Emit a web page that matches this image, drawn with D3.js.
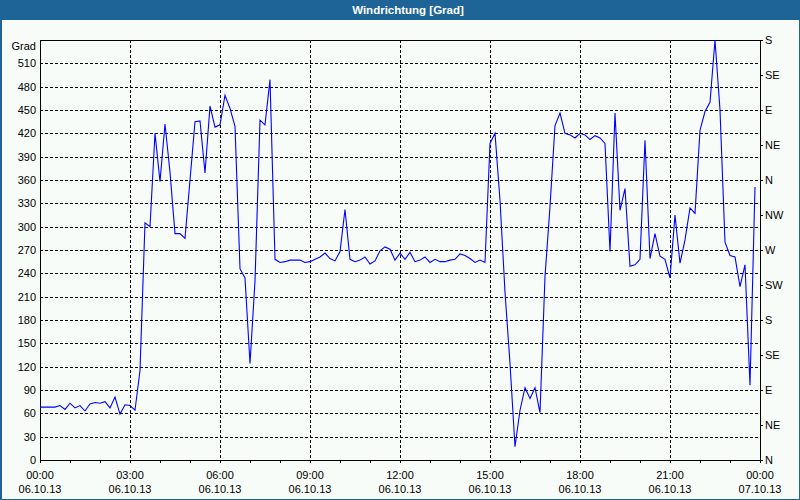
<!DOCTYPE html>
<html>
<head>
<meta charset="utf-8">
<script src="https://cdn.jsdelivr.net/npm/d3@7"></script>
<style>
  html, body { margin: 0; padding: 0; background: #fff; }
  svg { display: block; }
  text { font-family: "Liberation Sans", Arial, sans-serif; }
</style>
</head>
<body>
<svg id="chart" width="800" height="500"></svg>
<script>
// ---------------- data ----------------
const chartTitle = "Windrichtung [Grad]";
const yUnit = "Grad";
const startTime = new Date(2013, 9, 6, 0, 0);
const endTime = new Date(2013, 9, 7, 0, 0);
const intervalMinutes = 10;
// wind direction in degrees, one value every 10 minutes from 06.10.13 00:00
const windDirection = [
  68, 68, 68, 68, 70, 65, 73, 67, 70, 63,
  72, 74, 73, 75, 67, 81, 59, 71, 70, 64,
  115, 305, 300, 420, 358, 432, 370, 291, 291, 285,
  360, 435, 436, 369, 455, 428, 431, 469, 452, 429,
  246, 234, 124, 230, 437, 431, 489, 258, 254, 255,
  257, 257, 257, 254, 255, 258, 261, 266, 259, 256,
  268, 322, 258, 255, 257, 261, 252, 256, 269, 274,
  271, 257, 266, 258, 267, 255, 257, 261, 254, 258,
  255, 255, 257, 258, 265, 263, 259, 254, 257, 254,
  407, 420, 334, 216, 124, 17, 64, 93, 79, 93,
  61, 236, 326, 430, 446, 420, 418, 414, 420, 418,
  412, 417, 414, 407, 268, 446, 321, 349, 249, 251,
  258, 411, 259, 291, 262, 258, 234, 315, 253, 283,
  324, 317, 424, 448, 460, 540, 450, 280, 263, 261,
  223, 251, 96, 351
];
const degreeTicks = [0, 30, 60, 90, 120, 150, 180, 210, 240, 270, 300, 330, 360, 390, 420, 450, 480, 510];
const compassTicks = [0, 45, 90, 135, 180, 225, 270, 315, 360, 405, 450, 495, 540];
const compassLabels = ["N", "NE", "E", "SE", "S", "SW", "W", "NW", "N", "NE", "E", "SE", "S"];
const timeLabelHours = [0, 3, 6, 9, 12, 15, 18, 21, 24];
const timeLabels = ["00:00", "03:00", "06:00", "09:00", "12:00", "15:00", "18:00", "21:00", "00:00"];
const dateLabels = ["06.10.13", "06.10.13", "06.10.13", "06.10.13", "06.10.13", "06.10.13", "06.10.13", "06.10.13", "07.10.13"];

// ---------------- layout ----------------
const W = 800, H = 500;
const plot = { left: 40, right: 760, top: 40, bottom: 460 };
const svg = d3.select("#chart");

const x = d3.scaleTime().domain([startTime, endTime]).range([plot.left, plot.right]);
const y = d3.scaleLinear().domain([0, 540]).range([plot.bottom, plot.top]);
const hourDate = h => new Date(startTime.getTime() + h * 3600 * 1000);

// background
svg.append("rect").attr("x", 0).attr("y", 0).attr("width", W).attr("height", H).attr("fill", "#f8fcf8");
// title bar
svg.append("rect").attr("x", 0).attr("y", 0).attr("width", W).attr("height", 20).attr("fill", "#1e6496");
svg.append("text").attr("x", 408).attr("y", 14).attr("text-anchor", "middle")
  .attr("fill", "#ffffff").attr("font-weight", "bold").attr("font-size", "11.5px").text(chartTitle);
// window frame
svg.append("rect").attr("x", 0.5).attr("y", 0.5).attr("width", W - 1).attr("height", H - 1)
  .attr("fill", "none").attr("stroke", "#1e6496").attr("stroke-width", 1);
svg.append("line").attr("x1", 1.5).attr("x2", 1.5).attr("y1", 0).attr("y2", H)
  .attr("stroke", "#1e6496").attr("stroke-width", 1);

// grid
const grid = svg.append("g").attr("stroke", "#000").attr("stroke-width", 1)
  .attr("stroke-dasharray", "3,2").attr("shape-rendering", "crispEdges");
grid.selectAll("line.h").data(degreeTicks.filter(d => d > 0)).enter().append("line")
  .attr("x1", plot.left).attr("x2", plot.right)
  .attr("y1", d => Math.round(y(d)) + 0.5).attr("y2", d => Math.round(y(d)) + 0.5);
grid.selectAll("line.v").data(timeLabelHours.filter(h => h > 0 && h < 24)).enter().append("line")
  .attr("y1", plot.top).attr("y2", plot.bottom)
  .attr("x1", h => Math.round(x(hourDate(h))) + 0.5).attr("x2", h => Math.round(x(hourDate(h))) + 0.5);

// bottom axis: hourly ticks
const hourTicks = d3.range(0, 25).map(hourDate);
const xAxis = d3.axisBottom(x).tickValues(hourTicks).tickSize(3).tickFormat("");
const gx = svg.append("g").attr("transform", `translate(0,${plot.bottom})`).call(xAxis);
gx.select(".domain").remove();
gx.selectAll("line").attr("stroke", "#000").attr("shape-rendering", "crispEdges");

// time / date labels
const lab = svg.append("g").attr("font-size", "11px").attr("fill", "#000").attr("text-anchor", "middle");
lab.selectAll("text.t").data(timeLabelHours).enter().append("text")
  .attr("x", h => x(hourDate(h))).attr("y", 479).text((h, i) => timeLabels[i]);
lab.selectAll("text.d").data(timeLabelHours).enter().append("text")
  .attr("x", h => x(hourDate(h))).attr("y", 493).text((h, i) => dateLabels[i]);

// left axis
const yAxis = d3.axisLeft(y).tickValues(degreeTicks).tickSize(0).tickPadding(4).tickFormat(d3.format("d"));
const gy = svg.append("g").attr("transform", `translate(${plot.left},0)`).call(yAxis);
gy.select(".domain").remove();
gy.selectAll("text").attr("font-size", "11px").attr("font-family", "Liberation Sans, Arial, sans-serif").attr("fill", "#000");
svg.append("text").attr("x", 36).attr("y", 50).attr("text-anchor", "end")
  .attr("font-size", "11px").attr("fill", "#000").text(yUnit);

// right axis (compass)
const yAxisR = d3.axisRight(y).tickValues(compassTicks).tickSize(3).tickPadding(2)
  .tickFormat((d, i) => compassLabels[i]);
const gr = svg.append("g").attr("transform", `translate(${plot.right},0)`).call(yAxisR);
gr.select(".domain").remove();
gr.selectAll("line").attr("stroke", "#000").attr("shape-rendering", "crispEdges");
gr.selectAll("text").attr("font-size", "11px").attr("font-family", "Liberation Sans, Arial, sans-serif").attr("fill", "#000");

// plot frame
svg.append("rect").attr("x", plot.left + 0.5).attr("y", plot.top + 0.5)
  .attr("width", plot.right - plot.left).attr("height", plot.bottom - plot.top)
  .attr("fill", "none").attr("stroke", "#000").attr("stroke-width", 1).attr("shape-rendering", "crispEdges");

// series
const series = windDirection.map((v, i) => ({
  t: new Date(startTime.getTime() + i * intervalMinutes * 60000), v
}));
const line = d3.line().x(d => x(d.t)).y(d => y(d.v));
svg.append("path").datum(series).attr("d", line)
  .attr("fill", "none").attr("stroke", "#0000ff").attr("stroke-width", 1.1)
  .attr("stroke-linejoin", "miter");
</script>
</body>
</html>
